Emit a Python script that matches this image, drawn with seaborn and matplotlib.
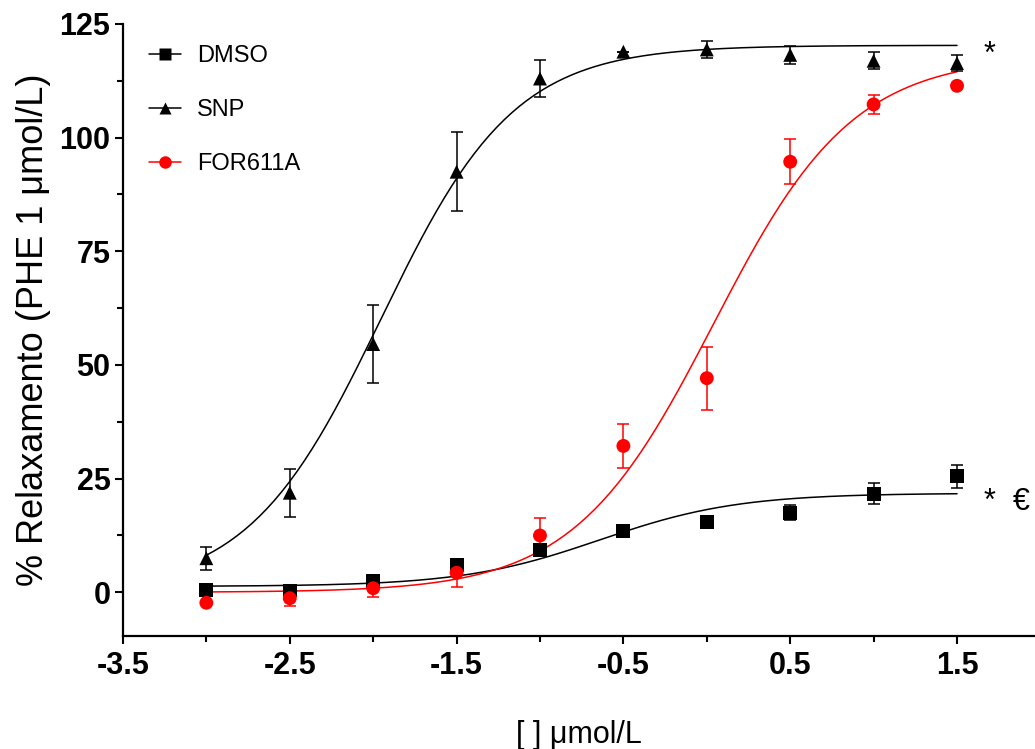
import numpy as np
import matplotlib
matplotlib.use("Agg")
import matplotlib.pyplot as plt
import pandas as pd
import seaborn as sns
from matplotlib.lines import Line2D
from matplotlib.ticker import MultipleLocator

# data
log_conc = [-3.0, -2.5, -2.0, -1.5, -1.0, -0.5, 0.0, 0.5, 1.0, 1.5]

dmso = [0.5, 0.4, 2.4, 6.0, 9.3, 13.4, 15.5, 17.5, 21.7, 25.5]
dmso_err = [0.3, 0.3, 0.5, 0.8, 0.8, 0.8, 0.8, 1.6, 2.3, 2.5]

snp = [7.5, 21.9, 54.6, 92.5, 113.0, 118.9, 119.4, 118.2, 116.9, 116.4]
snp_err = [2.5, 5.3, 8.6, 8.7, 4.0, 0.0, 1.8, 1.9, 1.9, 1.7]

for611a = [-2.3, -1.3, 0.9, 4.3, 12.5, 32.2, 47.1, 94.7, 107.3, 111.4]
for611a_err = [0.0, 1.8, 2.0, 3.1, 3.9, 4.8, 6.9, 5.0, 2.1, 0.0]

# sigmoidal fit parameters (bottom, top, logEC50, hill)
dmso_fit = (1.3, 21.8, -0.64, 1.05)
snp_fit = (0.0, 120.3, -1.953, 1.087)
for611a_fit = (0.0, 118.0, 0.04, 1.036)

groups = ["DMSO", "SNP", "FOR611A"]
colors = {"DMSO": "black", "SNP": "black", "FOR611A": "#ff0000"}
markers = {"DMSO": "s", "SNP": "^", "FOR611A": "o"}

points = pd.DataFrame({
    "x": log_conc * 3,
    "y": dmso + snp + for611a,
    "err": dmso_err + snp_err + for611a_err,
    "group": np.repeat(groups, len(log_conc)),
})


def logistic(x, bottom, top, logec50, hill):
    return bottom + (top - bottom) / (1 + 10 ** ((logec50 - x) * hill))


xs = np.linspace(log_conc[0], log_conc[-1], 200)
curves = pd.DataFrame({
    "x": np.tile(xs, 3),
    "y": np.concatenate([logistic(xs, *p) for p in (dmso_fit, snp_fit, for611a_fit)]),
    "group": np.repeat(groups, len(xs)),
})

sns.set_style("ticks", {"axes.edgecolor": "black", "xtick.color": "black",
                        "ytick.color": "black", "text.color": "black",
                        "axes.labelcolor": "black"})
plt.rcParams["font.family"] = ["Liberation Sans", "DejaVu Sans"]
plt.rcParams["axes.unicode_minus"] = False

fig = plt.figure(figsize=(10.35, 7.49), dpi=100)
ax = fig.add_axes([0.1188, 0.1509, 0.8816, 0.8171])

sns.lineplot(data=curves, x="x", y="y", hue="group", palette=colors,
             linewidth=1.1, legend=False, ax=ax, sort=False, estimator=None)

for g in groups:
    d = points[points["group"] == g]
    ax.errorbar(d["x"], d["y"], yerr=d["err"], fmt="none", ecolor=colors[g],
                elinewidth=1.1, capsize=4.5, capthick=1.1, zorder=3)

sns.scatterplot(data=points, x="x", y="y", hue="group", style="group",
                palette=colors, markers=markers, s=100, edgecolor="none",
                legend=False, ax=ax, zorder=4)

ax.set_xlim(-3.5, 1.97)
ax.set_ylim(-9.6, 125)
ax.xaxis.set_minor_locator(MultipleLocator(0.5))
ax.set_xticks([-3.5, -2.5, -1.5, -0.5, 0.5, 1.5])
ax.yaxis.set_major_locator(MultipleLocator(25))
ax.yaxis.set_minor_locator(MultipleLocator(12.5))

sns.despine(ax=ax)
for s in ("left", "bottom"):
    ax.spines[s].set_linewidth(1.6)
ax.tick_params(which="major", length=6, width=1.5, labelsize=22)
ax.tick_params(which="minor", length=4, width=1.5)
ax.tick_params(axis="x", which="major", pad=5)
ax.tick_params(axis="y", which="major", pad=3)
for lab in ax.get_xticklabels() + ax.get_yticklabels():
    lab.set_fontweight("bold")

ax.set_xlabel("[ ] \u03bcmol/L", fontsize=22, labelpad=28)
ax.set_ylabel("% Relaxamento (PHE 1 \u03bcmol/L)", fontsize=26, labelpad=6)

# significance marks
ax.text(1.66, snp_fit[1] - 2.0, "*", fontsize=22, va="center", ha="left")
ax.text(1.66, dmso_fit[1] - 2.0, "*  \u20ac", fontsize=22, va="center", ha="left")

handles = [Line2D([0], [0], color=colors[g], marker=markers[g], markersize=9,
                  linewidth=1.1, markeredgecolor="none") for g in groups]
ax.legend(handles, groups, loc="upper left", bbox_to_anchor=(0.005, 1.0),
          frameon=False, fontsize=17, handlelength=1.35, labelspacing=1.35,
          handletextpad=0.7)

fig.savefig("out.png", dpi=100)
